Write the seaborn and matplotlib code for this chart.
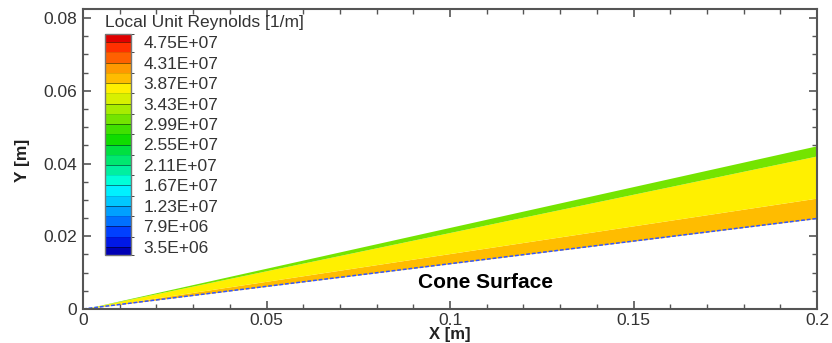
import matplotlib as mpl
import matplotlib.pyplot as plt
import matplotlib.ticker as ticker
from matplotlib.colors import ListedColormap, BoundaryNorm
import seaborn as sns

# данные, считанные с картинки
# концы лучей (в начале все выходят из вершины конуса)
x_edge = [0.0, 0.2]
surface_y = [0.0, 0.0249]      # поверхность конуса
orange_top_y = [0.0, 0.0305]   # граница оранжевой/жёлтой зон
yellow_top_y = [0.0, 0.0421]   # граница жёлтой/зелёной зон
shock_y = [0.0, 0.0449]        # скачок уплотнения
# число Рейнольдса внутри каждой полосы (снизу вверх)
band_re = [3.98e7, 3.76e7, 3.10e7]

# подписанные уровни легенды
legend_levels = [3.5e6, 7.9e6, 1.23e7, 1.67e7, 2.11e7, 2.55e7,
                 2.99e7, 3.43e7, 3.87e7, 4.31e7, 4.75e7]
legend_labels = ['3.5E+06', '7.9E+06', '1.23E+07', '1.67E+07', '2.11E+07', '2.55E+07',
                 '2.99E+07', '3.43E+07', '3.87E+07', '4.31E+07', '4.75E+07']
# цвета полос легенды, снизу вверх (включая крайние)
band_colors = ['#0000b4', '#0018e6', '#0040ff', '#0070ff', '#00a0ff', '#00c8ff',
               '#00f0ff', '#00ffd8', '#00f0a0', '#00e870', '#00e040', '#10dc00',
               '#40e000', '#74e400', '#a8ec00', '#d8f000', '#fff000', '#ffbc00',
               '#ff9800', '#ff6000', '#ff3000', '#e00000']

sns.set_style('ticks')
plt.rcParams['font.family'] = ['Liberation Sans', 'DejaVu Sans']

# границы всех уровней: подписанные + промежуточные
step = legend_levels[1] - legend_levels[0]
levels = []
for a, b in zip(legend_levels[:-1], legend_levels[1:]):
    levels += [a, (a + b) / 2]
levels.append(legend_levels[-1])
bounds = [levels[0] - 0.4 * step] + levels + [levels[-1] + 0.4 * step]

cmap = ListedColormap(band_colors)
norm = BoundaryNorm(bounds, ncolors=len(band_colors))

fig = plt.figure(figsize=(8.32, 3.43), dpi=100)
ax = fig.add_axes([83 / 832, 34 / 343, 734 / 832, 300 / 343])

# полосы течения между конусом и скачком
edges = [surface_y, orange_top_y, yellow_top_y, shock_y]
for lo, hi, re in zip(edges[:-1], edges[1:], band_re):
    ax.fill_between(x_edge, lo, hi, color=cmap(norm(re)), linewidth=0)

# тонкий пограничный слой у поверхности
sns.lineplot(x=x_edge, y=surface_y, ax=ax, color='#3355ff', linewidth=1.1,
             linestyle=(0, (2.5, 1.2)))

ax.text(0.1098, 0.0074, 'Cone Surface', fontsize=15, fontweight='bold',
        ha='center', va='center', color='black')

ax.set_xlim(0, 0.2)
ax.set_ylim(0, 0.0825)
ax.xaxis.set_major_locator(ticker.MultipleLocator(0.05))
ax.xaxis.set_minor_locator(ticker.MultipleLocator(0.01))
ax.yaxis.set_major_locator(ticker.MultipleLocator(0.02))
ax.yaxis.set_minor_locator(ticker.MultipleLocator(0.005))
fmt = ticker.FuncFormatter(lambda v, p: '%g' % round(v, 4))
ax.xaxis.set_major_formatter(fmt)
ax.yaxis.set_major_formatter(fmt)
ax.tick_params(which='both', direction='in', top=True, right=True,
               color='#555555', labelcolor='#333333', labelsize=12.5)
ax.tick_params(which='major', length=6, width=1.2)
ax.tick_params(which='minor', length=3.5, width=1.0)
ax.tick_params(axis='x', pad=3)
ax.tick_params(axis='y', pad=4)
for s in ax.spines.values():
    s.set_color('#555555')
    s.set_linewidth(1.5)
ax.set_xlabel('')
ax.set_ylabel('')

fig.text(22 / 832, 1 - 160 / 343, 'Y [m]', rotation=90, fontsize=12.5,
         fontweight='bold', ha='center', va='center', color='#222222')
fig.text(450 / 832, 1 - 335 / 343, 'X [m]', fontsize=12,
         fontweight='bold', ha='center', va='center', color='#222222')

# легенда уровней
cax = fig.add_axes([105 / 832, (343 - 255) / 343, 26 / 832, 221 / 343])
cb = mpl.colorbar.ColorbarBase(cax, cmap=cmap, norm=norm, boundaries=bounds,
                               spacing='proportional', orientation='vertical')
cb.set_ticks(legend_levels)
cb.set_ticklabels(legend_labels)
cax.tick_params(length=0, pad=9, labelsize=12.5, labelcolor='#333333')
for lev in levels:
    cax.axhline(lev, color='black', linewidth=0.6,
                alpha=0.55 if lev in legend_levels else 0.12)
cb.outline.set_edgecolor('#777777')
cb.outline.set_linewidth(1.0)
fig.text(105 / 832, 1 - 22 / 343, 'Local Unit Reynolds [1/m]', fontsize=12.5,
         ha='left', va='center', color='#333333')

fig.savefig('out.png', dpi=100)
